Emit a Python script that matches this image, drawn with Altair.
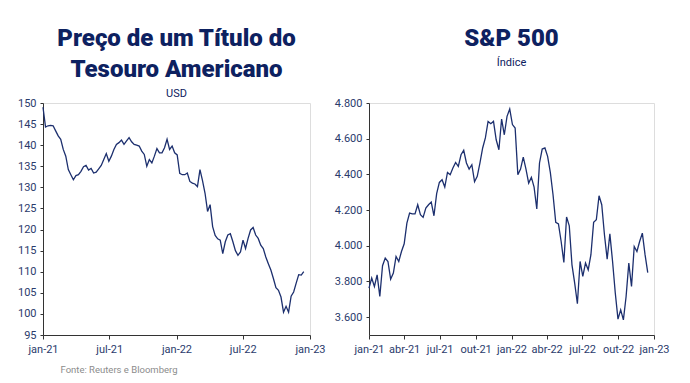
import altair as alt
import pandas as pd

# Treasury bond price (USD), weekly, Jan 2021 - Dec 2022
bond_values = [149, 144.3, 144.6, 144.7, 144.6, 143.4, 142.2, 141.4, 139, 137.4,
               134.2, 133, 131.8, 132.8, 133, 133.8, 134.9, 135.2, 134.1, 134.5,
               133.4, 133.6, 134.4, 135.2, 136.6, 138, 136.2, 137.4, 139, 140.2,
               140.6, 141.2, 140.2, 141, 141.8, 140.8, 140.2, 140, 139.8, 138.6,
               137.8, 135, 136.6, 135.8, 137.4, 139.2, 138.2, 138.2, 139.4, 141.4,
               139, 139.8, 138.2, 137.7, 133.3, 133, 133, 133.4, 131.4, 131,
               130.8, 130.2, 134.2, 131.6, 128.6, 124.3, 125.9, 120.7, 118.6, 117.8,
               117.5, 114.3, 117.1, 118.7, 119, 117.1, 115, 113.9, 114.7, 117.5,
               115.5, 117.9, 119.9, 120.5, 118.7, 117.9, 116.3, 115.5, 113.5, 111.9,
               110.4, 108.4, 106.2, 105.6, 104, 100.4, 101.8, 100.4, 104.2, 105.2,
               107.3, 109.3, 109.2, 110]
bond_start, bond_end = "2021-01-01", "2022-12-15"

# S&P 500 index, weekly, Jan 2021 - Dec 2022
spx_values = [3763, 3819, 3772, 3837, 3716, 3888, 3931, 3912, 3813, 3847,
              3940, 3912, 3968, 4011, 4127, 4183, 4179, 4179, 4230, 4174,
              4159, 4211, 4230, 4245, 4168, 4292, 4355, 4370, 4329, 4411,
              4398, 4436, 4467, 4445, 4510, 4535, 4464, 4430, 4454, 4359,
              4389, 4464, 4548, 4604, 4697, 4684, 4697, 4594, 4538, 4710,
              4622, 4725, 4766, 4679, 4660, 4398, 4430, 4497, 4430, 4351,
              4383, 4329, 4206, 4464, 4542, 4548, 4501, 4411, 4286, 4131,
              4123, 4024, 3907, 4161, 4112, 3893, 3791, 3675, 3912, 3828,
              3903, 3865, 3950, 4131, 4146, 4280, 4230, 4062, 3925, 4067,
              3912, 3735, 3589, 3641, 3585, 3716, 3903, 3772, 3996, 3968,
              4024, 4071, 3950, 3850]
spx_start, spx_end = "2021-01-01", "2022-12-16"

bond_ticks = ["2021-01-01", "2021-07-01", "2022-01-01", "2022-07-01", "2023-01-01"]
spx_ticks = ["2021-01-01", "2021-04-01", "2021-07-01", "2021-10-01", "2022-01-01",
             "2022-04-01", "2022-07-01", "2022-10-01", "2023-01-01"]
bond_yticks = [95, 100, 105, 110, 115, 120, 125, 130, 135, 140, 145, 150]
spx_yticks = [3600, 3800, 4000, 4200, 4400, 4600, 4800]

bond_df = pd.DataFrame({
    "date": pd.date_range(bond_start, bond_end, periods=len(bond_values)),
    "value": bond_values,
})
spx_df = pd.DataFrame({
    "date": pd.date_range(spx_start, spx_end, periods=len(spx_values)),
    "value": spx_values,
})

NAVY = "#0d2160"
LINE = "#1c2f6e"
LABEL = "#2b3b6c"
FONT = "Roboto"

month_expr = ("['jan','fev','mar','abr','mai','jun','jul','ago','set','out','nov','dez']"
              "[month(datum.value)] + '-' + timeFormat(datum.value, '%y')")
num_expr = "replace(format(datum.value, ','), ',', '.')"

def xaxis(ticks, title=None):
    kw = dict(
        values=[pd.Timestamp(t).value // 10**6 for t in ticks],
        labelExpr=month_expr,
        grid=False, domainColor="#333333", tickColor="#333333", tickSize=4,
        labelColor=LABEL, labelFont=FONT, labelFontSize=11, labelPadding=4,
        labelOverlap=False, labelFlush=False,
    )
    if title:
        kw.update(title=title, titleFont=FONT, titleFontSize=9.5, titleFontWeight="normal",
                  titleColor="#8c8c8c", titleAnchor="start", titleAlign="left",
                  titleX=17, titleY=29)
    else:
        kw.update(title=None)
    return alt.Axis(**kw)

def yaxis(ticks, expr=None):
    kw = dict(values=ticks, grid=False, title=None, domainColor="#333333",
              tickColor="#333333", tickSize=3, labelColor=LABEL, labelFont=FONT,
              labelFontSize=11, labelPadding=4)
    if expr:
        kw["labelExpr"] = expr
    return alt.Axis(**kw)

left = alt.Chart(bond_df).mark_line(color=LINE, strokeWidth=1.3).encode(
    x=alt.X("date:T", scale=alt.Scale(domain=["2021-01-01", "2023-01-01"]),
            axis=xaxis(bond_ticks, "Fonte: Reuters e Bloomberg")),
    y=alt.Y("value:Q", scale=alt.Scale(domain=[95, 150], nice=False, zero=False),
            axis=yaxis(bond_yticks)),
).properties(
    width=267, height=232,
    title=alt.TitleParams(
        text=["Preço de um Título do", "Tesouro Americano"],
        subtitle="USD",
        font=FONT, fontSize=24, fontWeight=900, color=NAVY, lineHeight=31,
        subtitleFont=FONT, subtitleFontSize=11, subtitleColor=NAVY,
        subtitlePadding=6, anchor="middle", offset=-2,
    ),
)

right = alt.Chart(spx_df).mark_line(color=LINE, strokeWidth=1.3).encode(
    x=alt.X("date:T", scale=alt.Scale(domain=["2021-01-01", "2023-01-01"]),
            axis=xaxis(spx_ticks)),
    y=alt.Y("value:Q", scale=alt.Scale(domain=[3500, 4800], nice=False, zero=False),
            axis=yaxis(spx_yticks, num_expr)),
).properties(
    width=285, height=232,
    title=alt.TitleParams(
        text="S&P 500", subtitle="Índice",
        font=FONT, fontSize=24, fontWeight=900, color=NAVY,
        subtitleFont=FONT, subtitleFontSize=11, subtitleColor=NAVY,
        subtitlePadding=6, anchor="middle", offset=29,
    ),
)

chart = alt.hconcat(left, right, spacing=59, bounds="flush").properties(
    padding={"left": 8, "top": 18, "right": 5, "bottom": 5}
).configure_view(stroke=None).configure(background="white")

chart.save("out.html", embed_options={"renderer": "svg", "actions": False})
